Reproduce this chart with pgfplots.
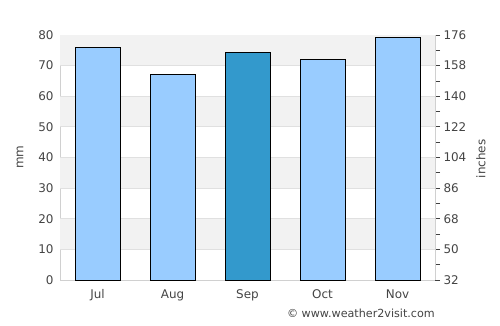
\documentclass[border=0pt]{standalone}
\usepackage{pgfplots}
\pgfplotsset{compat=1.18}
\usepackage{fontspec}
\setmainfont{DejaVu Sans}
\definecolor{txt}{HTML}{444444}
\definecolor{band}{HTML}{F2F2F2}
\definecolor{gridc}{HTML}{E0E0E0}
\definecolor{axc}{HTML}{D0D0D0}
\definecolor{lb}{HTML}{99CCFF}
\definecolor{db}{HTML}{3399CC}
\begin{document}
\begin{tikzpicture}[x=1bp,y=1bp]
\path[use as bounding box] (0,0) rectangle (500,325);
\begin{axis}[at={(60bp,45bp)}, anchor=south west, scale only axis,
  width=375bp, height=245bp,
  xmin=-0.5, xmax=4.5, ymin=0, ymax=80,
  xtick={0,...,4}, xticklabels={Jul,Aug,Sep,Oct,Nov},
  ytick={0,10,...,80}, major tick length=0pt,
  axis line style={draw=axc, line width=0.8bp},
  ticklabel style={font=\fontsize{12}{14}\selectfont, text=txt},
  xticklabel style={yshift=-6bp},
  yticklabel style={xshift=-3bp},
  /pgf/number format/assume math mode=true,
]
\fill[band] (axis cs:-0.5,70) rectangle (axis cs:4.5,80);
\fill[band] (axis cs:-0.5,50) rectangle (axis cs:4.5,60);
\fill[band] (axis cs:-0.5,30) rectangle (axis cs:4.5,40);
\fill[band] (axis cs:-0.5,10) rectangle (axis cs:4.5,20);
\pgfplotsinvokeforeach{10,20,30,40,50,60,70}{
  \draw[gridc, line width=0.8bp] (axis cs:-0.5,#1) -- (axis cs:4.5,#1);
}
\addplot[ybar, bar width=0.6, bar shift=0pt, fill=lb, draw=black, line width=0.8bp]
  coordinates {(0,76) (1,67.2) (3,72.1) (4,79.2)};
\addplot[ybar, bar width=0.6, bar shift=0pt, fill=db, draw=black, line width=0.8bp]
  coordinates {(2,74.3)};
\end{axis}
\begin{axis}[at={(60bp,45bp)}, anchor=south west, scale only axis,
  width=375bp, height=245bp,
  xmin=-0.5, xmax=4.5, ymin=32, ymax=176,
  axis y line*=right, axis x line=none,
  ytick={32,50,...,176}, minor y tick num=1,
  tick align=outside, major tick length=5bp, minor tick length=5bp,
  y axis line style={draw=axc, line width=0.8bp},
  tick style={draw=black!75, line width=0.8bp},
  ticklabel style={font=\fontsize{12}{14}\selectfont, text=txt},
  /pgf/number format/assume math mode=true,
]
\addplot[draw=none] coordinates {(0,32)};
\end{axis}
\node[rotate=90, text=txt, font=\fontsize{12}{14}\selectfont] at (20,168) {mm};
\node[rotate=90, text=txt, font=\fontsize{12}{14}\selectfont] at (481,166) {inches};
\node[anchor=east, text=txt, font=\fontsize{11.2}{13}\selectfont, inner sep=0pt] at (435,12) {\textcopyright\ www.weather2visit.com};
\end{tikzpicture}
\end{document}
